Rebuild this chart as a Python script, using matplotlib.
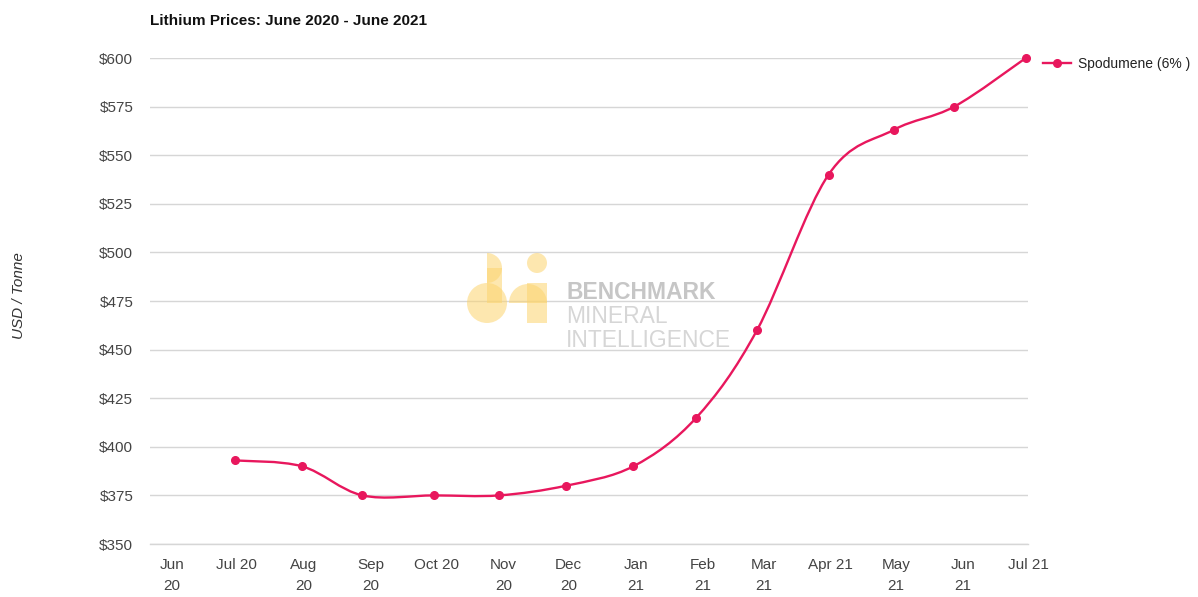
import numpy as np
import pandas as pd
import matplotlib
matplotlib.use("Agg")
import matplotlib.pyplot as plt
import matplotlib.dates as mdates
from matplotlib.path import Path
from matplotlib.patches import PathPatch, Circle, Wedge, Rectangle
from matplotlib.lines import Line2D
from matplotlib.transforms import IdentityTransform

# data
price_dates = ["2020-06-30", "2020-07-31", "2020-08-28", "2020-09-30", "2020-10-30",
               "2020-11-30", "2020-12-31", "2021-01-29", "2021-02-26", "2021-03-31",
               "2021-04-30", "2021-05-28", "2021-06-30"]
spodumene_prices = [393, 390, 375, 375, 375, 380, 390, 415, 460, 540, 563, 575, 600]

month_ticks = pd.date_range("2020-06-01", "2021-07-01", freq="MS")
month_labels = ["Jun\n20", "Jul 20", "Aug\n20", "Sep\n20", "Oct 20", "Nov\n20", "Dec\n20",
                "Jan\n21", "Feb\n21", "Mar\n21", "Apr 21", "May\n21", "Jun\n21", "Jul 21"]
y_ticks = [350, 375, 400, 425, 450, 475, 500, 525, 550, 575, 600]

W, H = 1198, 597
LINE = "#e8175d"

plt.rcParams["font.family"] = ["Liberation Sans", "DejaVu Sans"]

fig = plt.figure(figsize=(W / 100, H / 100), dpi=100)
ax = fig.add_axes([150 / W, 1 - 544 / H, (1028 - 150) / W, (544 - 58) / H])

x = mdates.date2num(pd.to_datetime(price_dates))
y = np.array(spodumene_prices, dtype=float)

# smooth curve through the points (catmull-rom as bezier segments)
pts = np.column_stack([x, y])
n = len(pts)
verts = [pts[0]]
codes = [Path.MOVETO]
for i in range(n - 1):
    p0 = pts[max(i - 1, 0)]
    p1 = pts[i]
    p2 = pts[i + 1]
    p3 = pts[min(i + 2, n - 1)]
    verts += [p1 + (p2 - p0) / 6, p2 - (p3 - p1) / 6, p2]
    codes += [Path.CURVE4] * 3
curve = PathPatch(Path(verts, codes), facecolor="none", edgecolor=LINE, lw=1.7,
                  transform=ax.transData, clip_on=False, zorder=3)
ax.add_patch(curve)
ax.plot(x, y, "o", color=LINE, ms=5.5, clip_on=False, zorder=4)

ax.set_xlim(mdates.date2num(pd.Timestamp("2020-05-22")), mdates.date2num(pd.Timestamp("2021-07-01")))
ax.set_ylim(350, 600)
ax.set_xticks(mdates.date2num(month_ticks))
ax.set_xticklabels(month_labels, linespacing=1.65)
ax.set_yticks(y_ticks)
ax.set_yticklabels([f"${v}" for v in y_ticks])
ax.tick_params(axis="both", length=0, labelsize=11, labelcolor="#444444")
ax.tick_params(axis="y", pad=12)
ax.tick_params(axis="x", pad=10)
ax.grid(axis="y", color="#d6d6d6", lw=1)
ax.axhline(350, color="#d6d6d6", lw=1, clip_on=False, zorder=0.5)
ax.set_axisbelow(True)
for s in ax.spines.values():
    s.set_visible(False)

# title and axis label
fig.text(150 / W, 1 - 25 / H, "Lithium Prices: June 2020 - June 2021", fontsize=11,
         fontweight="bold", color="#111111", ha="left", va="baseline")
fig.text(19 / W, 1 - 296 / H, "USD / Tonne", rotation=90, style="italic", fontsize=11,
         color="#333333", ha="center", va="center")

# legend
handle = Line2D([], [], color=LINE, lw=1.7, marker="o", ms=5.5)
fig.legend(handles=[handle], labels=["Spodumene (6% )"], loc="center left",
           bbox_to_anchor=(1043 / W, 1 - 64 / H), bbox_transform=fig.transFigure,
           frameon=False, fontsize=10, handlelength=2.0, handletextpad=0.5,
           borderpad=0, borderaxespad=0, labelcolor="#222222")

# watermark (pixel coords, origin top-left)
def px(xp, yp):
    return (xp, H - yp)

logo = dict(facecolor="#fcd46e", edgecolor="none", alpha=0.55, transform=IdentityTransform(), zorder=1)
fig.add_artist(Wedge(px(487, 268), 15, -90, 90, **logo))
fig.add_artist(Rectangle(px(487, 303), 15, 35, **logo))
fig.add_artist(Circle(px(487, 303), 20, **logo))
fig.add_artist(Wedge(px(528, 303), 19, 0, 180, **logo))
fig.add_artist(Rectangle(px(527, 323), 20, 40, **logo))
fig.add_artist(Circle(px(537, 263), 10, **logo))

fig.text(566 / W, 1 - 299 / H, "BENCHMARK", fontsize=16.5, fontweight="bold",
         color="#c6c6c6", ha="left", va="baseline", zorder=1)
fig.text(566 / W, 1 - 323 / H, "MINERAL", fontsize=16.5, color="#d6d6d6",
         ha="left", va="baseline", zorder=1)
fig.text(566 / W, 1 - 347 / H, "INTELLIGENCE", fontsize=16.5, color="#d6d6d6",
         ha="left", va="baseline", zorder=1)

fig.savefig("out.png", dpi=100)
